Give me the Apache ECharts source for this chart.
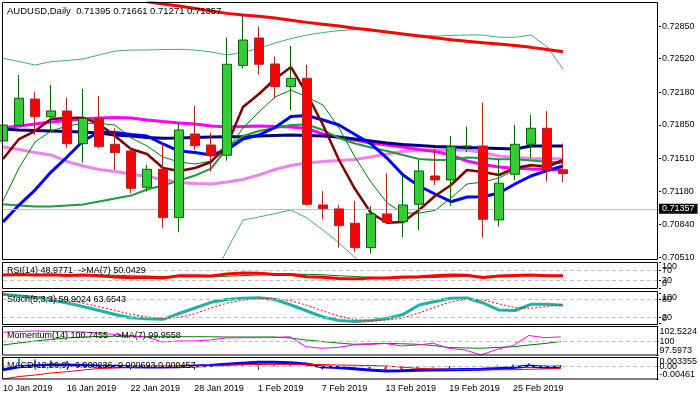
<!DOCTYPE html>
<html><head><meta charset="utf-8">
<script src="https://cdn.jsdelivr.net/npm/echarts@6/dist/echarts.min.js"></script>
<style>html,body{margin:0;padding:0;background:#fff}#c{width:700px;height:400px}</style>
</head><body><div id="c"></div>
<script>
// ---------- data ----------
const symbol = 'AUDUSD,Daily';
const dates = ['10 Jan 2019','11 Jan 2019','14 Jan 2019','15 Jan 2019','16 Jan 2019','17 Jan 2019','18 Jan 2019','21 Jan 2019','22 Jan 2019','23 Jan 2019','24 Jan 2019','25 Jan 2019','28 Jan 2019','29 Jan 2019','30 Jan 2019','31 Jan 2019','1 Feb 2019','4 Feb 2019','5 Feb 2019','6 Feb 2019','7 Feb 2019','8 Feb 2019','11 Feb 2019','12 Feb 2019','13 Feb 2019','14 Feb 2019','15 Feb 2019','18 Feb 2019','19 Feb 2019','20 Feb 2019','21 Feb 2019','22 Feb 2019','25 Feb 2019','26 Feb 2019','27 Feb 2019','28 Feb 2019'];
const emptySlots = 6;

const opens  = [0.71687,0.71845,0.72111,0.71932,0.71990,0.71659,0.71916,0.71653,0.71585,0.71218,0.71400,0.70911,0.71757,0.71646,0.71542,0.72452,0.72729,0.72466,0.72236,0.72321,0.71039,0.70999,0.70854,0.70607,0.70948,0.70870,0.71046,0.71332,0.71292,0.71631,0.71636,0.70887,0.71350,0.71653,0.71815,0.71395];
const highs  = [0.71983,0.72354,0.72182,0.72253,0.72125,0.72213,0.72142,0.71815,0.71623,0.71444,0.71663,0.71859,0.72041,0.71771,0.72732,0.72961,0.72843,0.72539,0.72648,0.72455,0.71181,0.71039,0.71080,0.71029,0.71360,0.71343,0.71494,0.71606,0.71737,0.71831,0.72074,0.71501,0.71848,0.71950,0.71990,0.71661];
const lows   = [0.71464,0.71838,0.71747,0.71781,0.71619,0.71467,0.71613,0.71393,0.71157,0.71174,0.70809,0.70763,0.71596,0.71376,0.71487,0.72422,0.72361,0.72115,0.72000,0.71029,0.70894,0.70607,0.70567,0.70550,0.70854,0.70712,0.70786,0.71241,0.71029,0.71575,0.70708,0.70820,0.71292,0.71515,0.71275,0.71271];
const closes = [0.71848,0.72119,0.71932,0.71990,0.71659,0.71916,0.71629,0.71568,0.71208,0.71400,0.70911,0.71798,0.71639,0.71538,0.72463,0.72708,0.72463,0.72236,0.72321,0.71046,0.71002,0.70830,0.70607,0.70948,0.70864,0.71039,0.71383,0.71292,0.71629,0.71636,0.70894,0.71259,0.71653,0.71815,0.71393,0.71357];

const maRed = [null,null,null,null,null,null,null,null,null,0.73095,0.73073,0.73052,0.73027,0.73002,0.72978,0.72961,0.72948,0.72931,0.72908,0.72887,0.72867,0.72850,0.72827,0.72809,0.72789,0.72769,0.72749,0.72732,0.72711,0.72695,0.72681,0.72668,0.72653,0.72634,0.72612,0.72590];
const bbUpper = [0.72523,0.72491,0.72455,0.72489,0.72501,0.72516,0.72557,0.72597,0.72607,0.72607,0.72612,0.72614,0.72607,0.72587,0.72557,0.72582,0.72627,0.72678,0.72723,0.72759,0.72784,0.72804,0.72814,0.72814,0.72794,0.72774,0.72759,0.72749,0.72754,0.72759,0.72759,0.72736,0.72736,0.72759,0.72640,0.72415];
const bbLower = [null,null,null,null,null,null,null,null,null,null,null,null,null,0.70259,0.70583,0.70887,0.70917,0.70952,0.70988,0.70907,0.70785,0.70654,0.70507,0.70360,null,null,null,null,null,null,null,null,null,null,null,null];
const maMaroon = [0.71504,0.71706,0.71787,0.71909,0.71919,0.71922,0.71858,0.71737,0.71605,0.71555,0.71413,0.71382,0.71413,0.71474,0.71646,0.72030,0.72162,0.72314,0.72435,0.72162,0.71848,0.71494,0.71200,0.70957,0.70859,0.70866,0.70988,0.71130,0.71241,0.71393,0.71373,0.71342,0.71413,0.71443,0.71423,0.71494];
const maThinGreen = [0.71079,0.71413,0.71676,0.71787,0.71838,0.71865,0.71865,0.71848,0.71717,0.71636,0.71524,0.71474,0.71453,0.71484,0.71595,0.71818,0.71980,0.72131,0.72202,0.72131,0.72050,0.71818,0.71524,0.71271,0.71059,0.70957,0.70957,0.70983,0.71109,0.71251,0.71271,0.71312,0.71393,0.71433,0.71448,0.71463];
const maBlue = [0.70866,0.71038,0.71190,0.71372,0.71524,0.71686,0.71777,0.71772,0.71752,0.71737,0.71656,0.71585,0.71570,0.71545,0.71595,0.71706,0.71747,0.71823,0.71934,0.71944,0.71899,0.71848,0.71752,0.71656,0.71514,0.71342,0.71231,0.71150,0.71072,0.71119,0.71122,0.71160,0.71251,0.71332,0.71386,0.71433];
const maNavy = [0.71808,0.71797,0.71792,0.71787,0.71782,0.71777,0.71767,0.71747,0.71737,0.71722,0.71713,0.71717,0.71722,0.71727,0.71730,0.71730,0.71737,0.71742,0.71747,0.71742,0.71737,0.71727,0.71706,0.71686,0.71666,0.71651,0.71641,0.71630,0.71625,0.71620,0.71615,0.71610,0.71605,0.71636,0.71636,0.71636];
const maMagenta = [0.71818,0.71838,0.71858,0.71878,0.71894,0.71909,0.71919,0.71924,0.71919,0.71899,0.71883,0.71868,0.71858,0.71838,0.71828,0.71833,0.71838,0.71833,0.71828,0.71813,0.71757,0.71721,0.71696,0.71666,0.71646,0.71625,0.71600,0.71580,0.71544,0.71484,0.71448,0.71423,0.71410,0.71403,0.71398,0.71393];
const maViolet = [0.71625,0.71600,0.71570,0.71545,0.71479,0.71433,0.71398,0.71377,0.71352,0.71327,0.71297,0.71266,0.71256,0.71251,0.71271,0.71297,0.71342,0.71398,0.71438,0.71463,0.71479,0.71489,0.71499,0.71524,0.71555,0.71580,0.71592,0.71595,0.71595,0.71595,0.71570,0.71534,0.71519,0.71509,0.71507,0.71507];
const maGreen = [0.71045,0.71033,0.71023,0.71023,0.71033,0.71043,0.71073,0.71104,0.71134,0.71195,0.71235,0.71286,0.71337,0.71407,0.71615,0.71737,0.71787,0.71818,0.71848,0.71853,0.71797,0.71717,0.71661,0.71620,0.71585,0.71544,0.71504,0.71494,0.71494,0.71519,0.71514,0.71501,0.71501,0.71489,0.71477,0.71474];

const rsi   = [52,54,52,53,50,52,49,44,41,43,40,49,49,48,56,60,59,54,54,45,43,38,37,40,40,44,45,49,52,51,42,48,50,52,49,48.9771];
const rsiMA = [54,54,53.5,53,53,52.5,52,51,49,47.5,46,45.5,45.5,45.5,47,49.5,52,53.5,55.5,54.5,52.5,49,46,43,41,40.5,41,42.5,44.5,46.5,46,47,48.5,49,49.5,50.0429];
const stochMain   = [96.7,91,86,77.7,67.7,56,42.7,29.3,18.7,15.3,13.3,32.7,51,70,79.3,83.3,85.3,79.3,61,41,21,9.3,6,9.3,16,29.3,61,72.7,83.3,84.3,67.7,44.3,42.7,63.3,63.3,59.9024];
const stochSignal = [95,93,90,85,77,67,55,43,30,21,16,20,32,51,67,77,82,83,75,60,41,24,12,8,11,18,35,54,72,80,78,65,52,50,56,63.6543];
const momentum   = [101.55,101.69,101.77,101.72,101.65,101.60,101.43,101.17,100.91,100.73,99.86,100.04,100.04,100.21,100.56,100.61,100.61,100.64,100.78,99.04,98.77,98.91,99.34,99.43,99.60,99.17,99.34,99.64,98.73,98.47,97.5973,98.59,99.25,100.99,100.61,100.7455];
const momentumMA = [99.34,99.69,100.04,100.30,100.56,100.73,100.82,100.85,100.85,100.82,100.78,100.78,100.78,100.77,100.73,100.73,100.73,100.73,100.56,100.21,99.95,99.69,99.46,99.55,99.64,99.55,99.46,99.25,98.91,98.82,98.77,98.91,99.04,99.34,99.60,99.9558];
const macdMain   = [-0.00126,-0.00011,0.00022,0.00051,0.00051,0.00033,0.00015,0.00004,-0.00011,-0.00022,-0.00022,-0.00011,0.00015,0.00033,0.00077,0.00114,0.00151,0.00151,0.00132,0.00088,-0.00011,-0.00040,-0.00084,-0.00132,-0.00169,-0.00158,-0.00143,-0.00132,-0.00121,-0.00114,-0.00106,-0.00077,-0.00040,0.00015,-0.00033,-0.000236];
const macdSignal = [-0.00461,-0.00371,-0.00316,-0.00242,-0.00195,-0.00132,-0.00077,-0.00059,-0.00040,-0.00022,-0.00011,-0.00011,-0.00004,0.00015,0.00051,0.00059,0.00070,0.00077,0.00077,0.00077,0.00070,0.00051,0.00044,0.00033,0.00015,-0.00022,-0.00070,-0.00088,-0.00106,-0.00114,-0.00121,-0.00121,-0.00120,-0.00105,-0.00090,-0.000693];
const macdHist   = [0.003355,0.0030,0.0026,0.0023,0.0020,0.0015,0.0009,0.0006,0.0003,0.0000,-0.0001,0.0000,0.0002,0.0002,0.0003,0.0006,0.0008,0.0007,0.0006,0.0001,-0.0008,-0.0009,-0.0013,-0.0017,-0.0018,-0.0014,-0.0007,-0.0004,-0.0002,0.0000,0.0002,0.0004,0.0008,0.0012,0.0006,0.000457];

const priceTicks = [0.70510,0.70840,0.71180,0.71510,0.71850,0.72180,0.72520,0.72850];
const rsiLevels = [30,70];
const rsiBounds = [0,100];
const stochLevels = [20,80];
const stochBounds = [0,100];
const momTicks = [97.5973,100,102.5224];
const momTickLabels = ['97.5973','100','102.5224'];
const macdLevels = [0];
const macdLevelLabels = ['0.00'];
const macdBounds = [-0.00461,0.003355];
const macdBoundLabels = ['-0.00461','0.003355'];

// ---------- layout ----------
const FONT = 'Liberation Sans';
const cats = dates.concat(new Array(emptySlots).fill(''));
const L = 3, W = 656;
const panels = [
  {top:3, height:256},
  {top:262.5, height:26},
  {top:293.3, height:30},
  {top:326.7, height:28.3},
  {top:357.3, height:21.7}
];
const frames = [[2.5,257],[262.5,26],[291.5,33],[326.5,28.5],[357.5,21.5]];
const n = dates.length;
const last = n - 1;

const grids = panels.map(p => ({left:L, top:p.top, width:W, height:p.height, show:false}));
const xAxes = panels.map((p,i) => ({
  type:'category', gridIndex:i, data:cats, boundaryGap:false,
  axisLine:{show:false}, splitLine:{show:false},
  axisTick: i===4 ? {show:true, length:3, lineStyle:{color:'#000'}, interval:(idx,v)=> idx%4===0 && v!==''} : {show:false},
  axisLabel: i===4 ? {show:true, interval:(idx,v)=> idx%4===0 && v!=='', align:'left', margin:5, fontSize:9, color:'#000', fontFamily:FONT} : {show:false}
}));
function yAx(i, min, max, ticks, fmt, edgeAlign){
  const lab = {show:true, customValues:ticks, formatter:fmt, fontSize:9, color:'#000', fontFamily:FONT, margin:3, hideOverlap:false, showMinLabel:true, showMaxLabel:true};
  if (edgeAlign) { lab.verticalAlignMinLabel = 'bottom'; lab.verticalAlignMaxLabel = 'top'; }
  return {
    type:'value', gridIndex:i, position:'right', min:min, max:max,
    axisLine:{show:false}, splitLine:{show:false},
    axisTick:{show:true, length:2, inside:false, customValues:ticks, lineStyle:{color:'#000'}},
    axisLabel: lab
  };
}
const pick = (vals, labels) => v => { const k = vals.indexOf(v); return k >= 0 ? labels[k] : String(v); };
const yAxes = [
  yAx(0, 0.70492, 0.73083, priceTicks, v => v.toFixed(5), false),
  yAx(1, rsiBounds[0], rsiBounds[1], rsiLevels, v => String(v), false),
  yAx(2, stochBounds[0], stochBounds[1], stochLevels, v => String(v), false),
  yAx(3, momTicks[0], momTicks[2], momTicks, pick(momTicks, momTickLabels), true),
  yAx(4, macdBounds[0], macdBounds[1], macdLevels, pick(macdLevels, macdLevelLabels), false),
  // overlapping edge labels (MetaTrader draws them clamped into the sub-window)
  yAx(1, rsiBounds[0], rsiBounds[1], rsiBounds, v => String(v), true),
  yAx(2, stochBounds[0], stochBounds[1], stochBounds, v => String(v), true),
  yAx(4, macdBounds[0], macdBounds[1], macdBounds, pick(macdBounds, macdBoundLabels), true)
];

function line(name, data, g, color, width, z, type){
  return {name, type:'line', data, xAxisIndex:g, yAxisIndex:g, showSymbol:false, symbol:'none', silent:true,
    lineStyle:{color, width, type:type||'solid'}, z:z||2, animation:false, clip:true};
}
function hlines(vals){
  return {silent:true, symbol:['none','none'], label:{show:false}, animation:false,
    lineStyle:{color:'#c0c0c0', type:[4,3], width:1}, data: vals.map(v=>({yAxis:v}))};
}

const candleData = dates.map((d,i)=>[opens[i], closes[i], lows[i], highs[i]]);

const series = [
  line('bbUpper', bbUpper, 0, '#3cb371', 1, 2),
  line('bbLower', bbLower, 0, '#3cb371', 1, 2),
  line('maRed', maRed, 0, '#ff0000', 3, 3),
  line('maViolet', maViolet, 0, '#ee82ee', 3, 3),
  line('maMagenta', maMagenta, 0, '#ff00ff', 3, 3),
  line('maNavy', maNavy, 0, '#000080', 3, 3),
  line('maGreen', maGreen, 0, '#1f9a3c', 2, 3),
  line('maThinGreen', maThinGreen, 0, '#008000', 1, 3),
  line('maBlue', maBlue, 0, '#0000ff', 3, 3),
  line('maMaroon', maMaroon, 0, '#800000', 2.5, 3),
  {type:'candlestick', data:candleData, xAxisIndex:0, yAxisIndex:0, barWidth:10, z:5, silent:true, animation:false,
    itemStyle:{color:'#32cd32', color0:'#ff0000', borderColor:'#006400', borderColor0:'#b22222', borderWidth:1},
    markLine:{silent:true, symbol:['none','none'], animation:false,
      lineStyle:{color:'#c0c0c0', type:'solid', width:1},
      label:{show:true, position:'end', distance:0, formatter: () => closes[last].toFixed(5), backgroundColor:'#000', color:'#fff',
        fontSize:9, fontFamily:FONT, padding:[1,3,0,3]},
      data:[{yAxis:closes[last]}]}},
  Object.assign(line('rsiMA', rsiMA, 1, '#008000', 1, 3), {markLine:hlines(rsiLevels)}),
  line('rsi', rsi, 1, '#ff0000', 3, 4),
  Object.assign(line('stochMain', stochMain, 2, '#20b2aa', 3, 3), {markLine:hlines(stochLevels)}),
  line('stochSignal', stochSignal, 2, '#ff0000', 1, 4, [2,2]),
  Object.assign(line('momentumMA', momentumMA, 3, '#008000', 1, 3), {markLine:hlines([100])}),
  line('momentum', momentum, 3, '#ff00ff', 1, 4),
  {type:'bar', data: macdHist.map(v=>({value:v, itemStyle:{color: v>=0 ? '#1e90ff' : '#ff0000'}})), xAxisIndex:4, yAxisIndex:4, barWidth:2, z:2, silent:true, animation:false,
    markLine:hlines(macdLevels)},
  line('macdMain', macdMain, 4, '#0000ff', 3, 3),
  line('macdSignal', macdSignal, 4, '#ff0000', 1, 4)
];

const f4 = v => v.toFixed(4), f6 = v => v.toFixed(6);
const titles = [
  {text:`${symbol}  ${opens[last].toFixed(5)} ${highs[last].toFixed(5)} ${lows[last].toFixed(5)} ${closes[last].toFixed(5)}`, top:5.5},
  {text:`RSI(14) ${f4(rsi[last])}  ->MA(7) ${f4(rsiMA[last])}`, top:265.5},
  {text:`Stoch(5,3,3) ${f4(stochMain[last])} ${f4(stochSignal[last])}`, top:294.5},
  {text:`Momentum(14) ${f4(momentum[last])}  ->MA(7) ${f4(momentumMA[last])}`, top:330},
  {text:`MACD(12,26,9) ${f6(macdMain[last])} ${f6(macdSignal[last])} ${f6(macdHist[last])}`, top:360.5}
].map((t,i)=>({text:t.text, left:7, top:t.top, padding:0, z:20,
  textStyle:{fontSize: i===0 ? 9.5 : 9, fontWeight:'normal', color:'#000', fontFamily:FONT, lineHeight:11}}));

const graphics = frames.map(fr => ({type:'rect', silent:true, z:50,
  shape:{x:2.5, y:fr[0], width:655, height:fr[1]}, style:{fill:'none', stroke:'#000', lineWidth:1}}));

const chart = echarts.init(document.getElementById('c'), null, {renderer:'canvas', width:700, height:400});
chart.setOption({
  animation:false, backgroundColor:'#fff',
  textStyle:{fontFamily:FONT},
  title: titles, grid: grids, xAxis: xAxes, yAxis: yAxes, series: series, graphic: graphics
});
</script>
</body></html>
